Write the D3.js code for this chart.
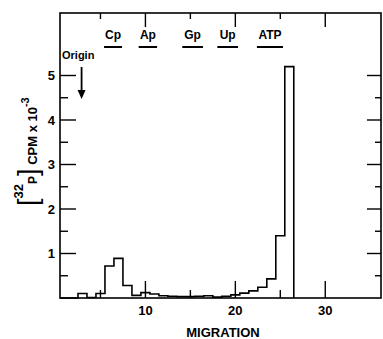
<!DOCTYPE html>
<html>
<head>
<meta charset="utf-8">
<script src="https://cdn.jsdelivr.net/npm/d3@7"></script>
<style>
  body { margin: 0; background: #fff; }
  text { font-family: "Liberation Sans", Arial, sans-serif; font-weight: bold; fill: #000; }
</style>
</head>
<body>
<div class="chart"></div>
<script>
const svgWidth = 383;
const svgHeight = 339;

// counts per migration fraction (bin centred on fraction number)
const fractions = d3.range(1, 27);
const cpm = [0, 0, 0.1, 0.01, 0.1, 0.72, 0.89, 0.28, 0.06, 0.12, 0.09, 0.05, 0.04,
    0.03, 0.03, 0.04, 0.05, 0.02, 0.04, 0.07, 0.11, 0.16, 0.24, 0.43, 1.4, 5.2];

// marker standards: name, start, end (migration units)
const markerNames = ["Cp", "Ap", "Gp", "Up", "ATP"];
const markerStart = [5.4, 9.25, 14.1, 18.0, 22.4];
const markerEnd = [7.4, 11.3, 16.4, 20.3, 25.3];
const originAt = 2.9;

const xTickLabels = [10, 20, 30];
const yTickLabels = [1, 2, 3, 4, 5];

const svg = d3.select(".chart")
    .append("svg")
    .attr("width", svgWidth)
    .attr("height", svgHeight);

const pLeft = 60, pRight = 381, pTop = 13, pBottom = 298;

const x = d3.scaleLinear().domain([0.5, 36.2]).range([pLeft, pRight]);
const y = d3.scaleLinear().domain([0, 5]).range([pBottom, 75.5]);

// histogram outline
let pts = [];
fractions.forEach((f, i) => {
    pts.push([x(f - 0.5), y(cpm[i])]);
    pts.push([x(f + 0.5), y(cpm[i])]);
});
pts.push([x(fractions[fractions.length - 1] + 0.5), y(0)]);

svg.append("path")
    .attr("d", d3.line()(pts))
    .attr("fill", "none")
    .attr("stroke", "#000")
    .attr("stroke-width", 1.6);

// frame
svg.append("rect")
    .attr("x", pLeft).attr("y", pTop)
    .attr("width", pRight - pLeft).attr("height", pBottom - pTop)
    .attr("fill", "none")
    .attr("stroke", "#000")
    .attr("stroke-width", 1.6);

// ticks (inside the frame on all four sides)
const tk = svg.append("g").attr("stroke", "#000").attr("stroke-width", 1.4);
d3.range(5, 35, 5).forEach(v => {
    const major = v % 10 === 0;
    tk.append("line").attr("x1", x(v)).attr("x2", x(v))
        .attr("y1", pBottom).attr("y2", pBottom - (major ? 17 : 8));
    tk.append("line").attr("x1", x(v)).attr("x2", x(v))
        .attr("y1", pTop).attr("y2", pTop + (major ? 14 : 6));
});
d3.range(0.5, 5.5, 0.5).forEach(v => {
    const major = Number.isInteger(v);
    tk.append("line").attr("x1", pLeft).attr("x2", pLeft + (major ? 16 : 8))
        .attr("y1", y(v)).attr("y2", y(v));
    tk.append("line").attr("x1", pRight).attr("x2", pRight - (major ? 14 : 6))
        .attr("y1", y(v)).attr("y2", y(v));
});

// tick labels
svg.selectAll("text.xl")
    .data(xTickLabels)
    .join("text")
    .attr("class", "xl")
    .attr("x", d => x(d))
    .attr("y", 315)
    .attr("text-anchor", "middle")
    .attr("font-size", 13)
    .text(d => d);

svg.selectAll("text.yl")
    .data(yTickLabels)
    .join("text")
    .attr("class", "yl")
    .attr("x", 55)
    .attr("y", d => y(d) + 4.5)
    .attr("text-anchor", "end")
    .attr("font-size", 13)
    .text(d => d);

svg.append("text")
    .attr("x", 223).attr("y", 337)
    .attr("text-anchor", "middle")
    .attr("font-size", 13)
    .text("MIGRATION");

// y axis label
const yl = svg.append("text")
    .attr("transform", "translate(37,206) rotate(-90)")
    .attr("font-size", 13);
yl.append("tspan").attr("font-size", 27).attr("font-weight", "normal").text("[");
yl.append("tspan").attr("font-size", 13).attr("dy", -14).text("32");
yl.append("tspan").attr("font-size", 12).attr("dy", 14).text("P");
yl.append("tspan").attr("font-size", 27).attr("font-weight", "normal").text("]");
yl.append("tspan").attr("font-size", 13).text(" CPM x 10");
yl.append("tspan").attr("font-size", 11).attr("dy", -8).text("-3");

// marker labels with underline
const mk = svg.selectAll("g.marker")
    .data(markerNames)
    .join("g")
    .attr("class", "marker");
mk.append("text")
    .attr("x", (d, i) => (x(markerStart[i]) + x(markerEnd[i])) / 2)
    .attr("y", 39)
    .attr("text-anchor", "middle")
    .attr("font-size", 12)
    .text(d => d);
mk.append("line")
    .attr("x1", (d, i) => x(markerStart[i]))
    .attr("x2", (d, i) => x(markerEnd[i]))
    .attr("y1", 47).attr("y2", 47)
    .attr("stroke", "#000")
    .attr("stroke-width", 2);

// origin arrow
svg.append("text")
    .attr("x", 62).attr("y", 59)
    .attr("font-size", 11)
    .text("Origin");
svg.append("line")
    .attr("x1", x(originAt)).attr("x2", x(originAt))
    .attr("y1", 67).attr("y2", 92)
    .attr("stroke", "#000").attr("stroke-width", 1.8);
svg.append("path")
    .attr("d", `M${x(originAt) - 4},90 L${x(originAt) + 4},90 L${x(originAt)},99 Z`)
    .attr("fill", "#000");
</script>
</body>
</html>
